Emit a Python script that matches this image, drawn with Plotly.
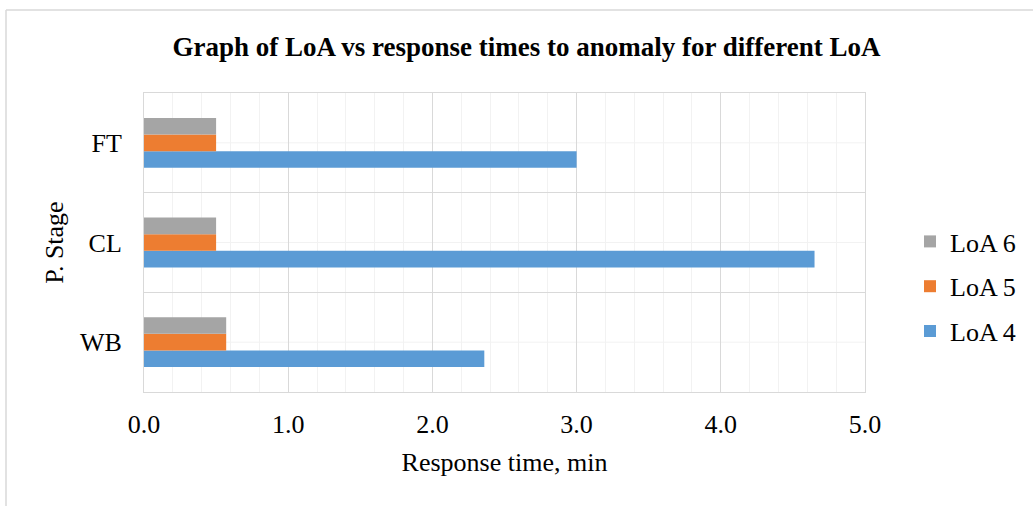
import plotly.graph_objects as go

# Process stages (bottom to top) and response times in minutes
stages = ["WB", "CL", "FT"]
loa4 = [2.36, 4.65, 3.0]
loa5 = [0.57, 0.5, 0.5]
loa6 = [0.57, 0.5, 0.5]

series_names = ["LoA 4", "LoA 5", "LoA 6"]
series_colors = ["#5B9BD5", "#ED7D31", "#A5A5A5"]
legend_ranks = [3, 2, 1]  # LoA 6 listed first
x_ticks = [0, 1, 2, 3, 4, 5]
x_tick_labels = ["0.0", "1.0", "2.0", "3.0", "4.0", "5.0"]

FONT = "Liberation Serif, Times New Roman, serif"
W, H = 1033, 506
ML, MR, MT, MB = 144, 168, 93, 114
PW, PH = W - ML - MR, H - MT - MB


def px_to_paper_x(px):
    return (px - ML) / PW


def px_to_paper_y(py):
    return (H - MB - py) / PH


fig = go.Figure()
for name, vals, color, rank in zip(series_names, [loa4, loa5, loa6], series_colors, legend_ranks):
    fig.add_trace(go.Bar(
        y=stages, x=vals, name=name, orientation="h",
        marker=dict(color=color, line=dict(width=0)),
        legendgroup=name, legendrank=rank,
    ))

# light lines through the centre of each category band
shapes = []
for s in stages:
    shapes.append(dict(type="line", xref="paper", yref="y", x0=0, x1=1, y0=s, y1=s,
                       line=dict(color="#F2F2F2", width=1), layer="below"))
# outer chart frame
shapes.append(dict(type="line", xref="paper", yref="paper",
                   x0=px_to_paper_x(6), x1=px_to_paper_x(1040),
                   y0=px_to_paper_y(10), y1=px_to_paper_y(10),
                   line=dict(color="#D9D9D9", width=1.5)))
shapes.append(dict(type="line", xref="paper", yref="paper",
                   x0=px_to_paper_x(6), x1=px_to_paper_x(6),
                   y0=px_to_paper_y(10), y1=px_to_paper_y(520),
                   line=dict(color="#D9D9D9", width=1.5)))

fig.update_layout(
    width=W, height=H,
    margin=dict(l=ML, r=MR, t=MT, b=MB, autoexpand=False),
    paper_bgcolor="white", plot_bgcolor="white",
    barmode="group", bargap=0.5, bargroupgap=0,
    font=dict(family=FONT, size=26, color="#000000"),
    title=dict(
        text="<b>Graph of LoA vs response times to anomaly for different LoA</b>",
        font=dict(family=FONT, size=27, color="#000000"),
        x=px_to_paper_x(526.5), xref="paper", xanchor="center",
        y=1 - 47 / H, yref="container", yanchor="middle",
    ),
    xaxis=dict(
        range=[0, 5], tickvals=x_ticks, ticktext=x_tick_labels,
        showgrid=True, gridcolor="#D9D9D9", gridwidth=1,
        minor=dict(dtick=0.2, showgrid=True, gridcolor="#F2F2F2", gridwidth=1),
        showline=True, linecolor="#D9D9D9", linewidth=1, mirror=True,
        zeroline=False, ticks="", ticklabelstandoff=9,
        tickfont=dict(family=FONT, size=26),
        title=dict(text="Response time, min", standoff=14,
                   font=dict(family=FONT, size=26)),
    ),
    yaxis=dict(
        type="category", tickson="boundaries",
        showgrid=True, gridcolor="#D9D9D9", gridwidth=1,
        showline=True, linecolor="#D9D9D9", linewidth=1, mirror=True,
        zeroline=False, ticks="", ticklabelstandoff=16,
        tickfont=dict(family=FONT, size=26),
        title=dict(text="P. Stage", standoff=8,
                   font=dict(family=FONT, size=26)),
    ),
    legend=dict(
        traceorder="grouped", x=px_to_paper_x(910), y=px_to_paper_y(218),
        xanchor="left", yanchor="top", tracegroupgap=8,
        font=dict(family=FONT, size=26), bgcolor="rgba(0,0,0,0)",
    ),
    shapes=shapes,
)

fig.write_html("out.html")
